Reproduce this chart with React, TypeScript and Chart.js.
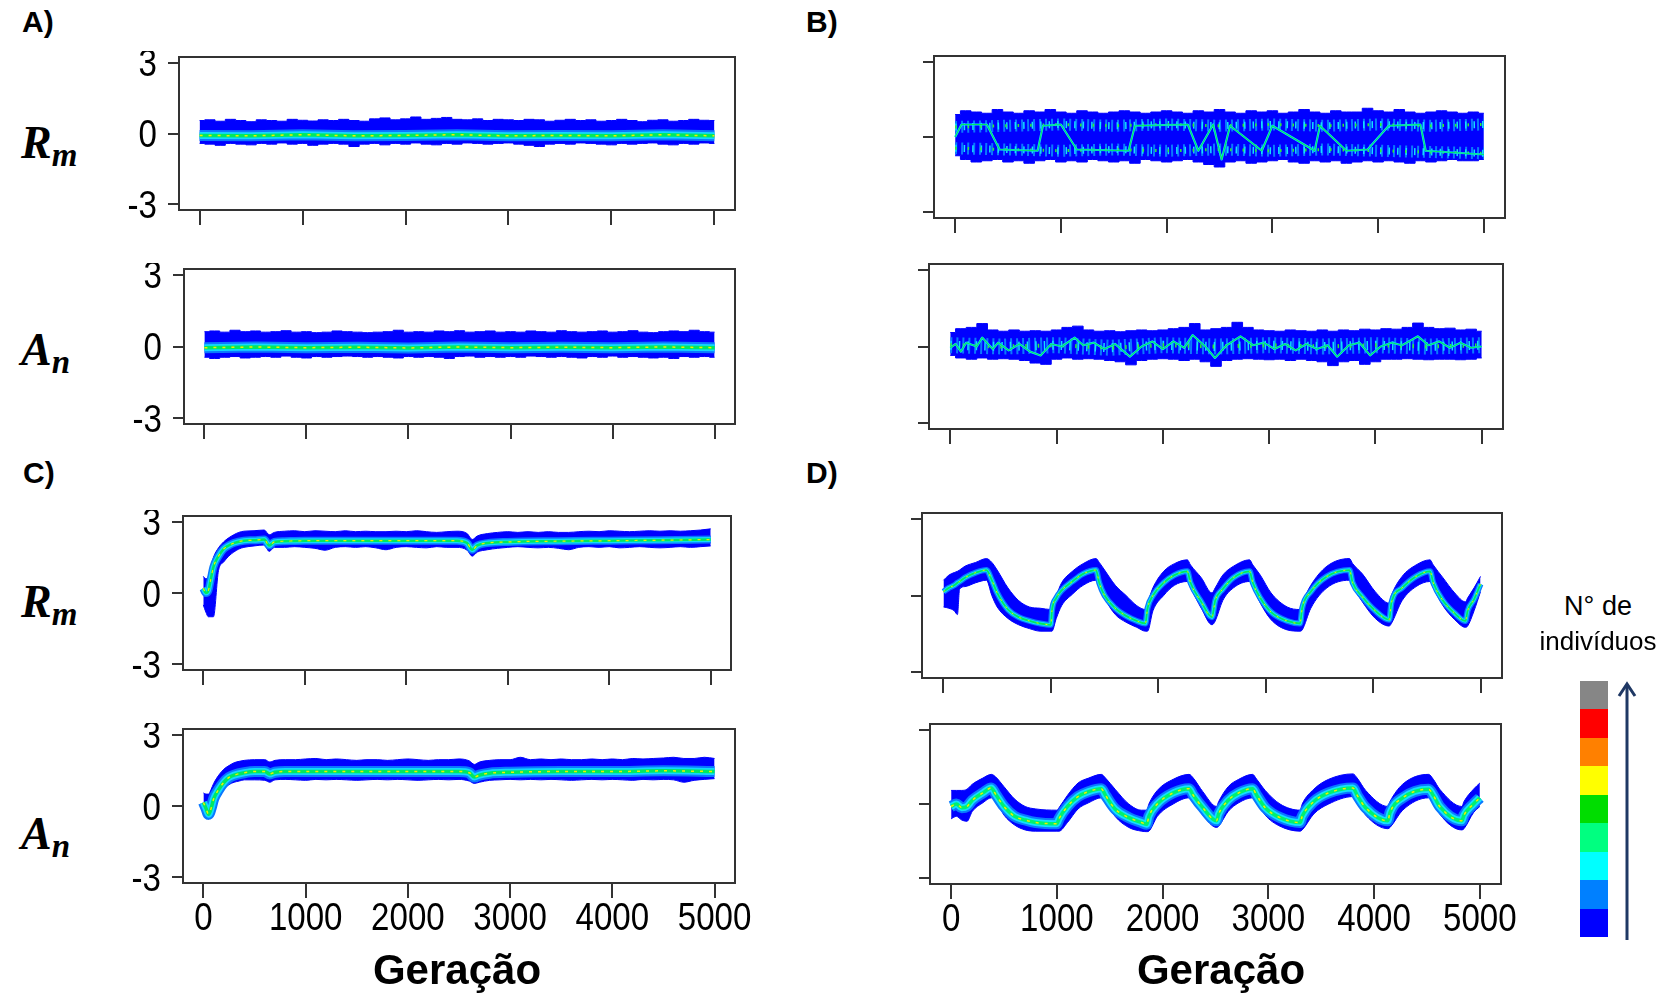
import React, { useEffect, useRef } from 'react';
import { Chart, registerables } from 'chart.js';

Chart.register(...registerables);

// ------------------------------------------------------------------ data
const X_TICKS = [0, 1000, 2000, 3000, 4000, 5000];
const X_TICK_LABELS = ['0', '1000', '2000', '3000', '4000', '5000'];
const Y_TICKS = [-3, 0, 3];
const Y_TICK_LABELS = ['-3', '0', '3'];

const GENS_100 = [0, 100, 200, 300, 400, 500, 600, 700, 800, 900, 1000, 1100, 1200, 1300, 1400, 1500, 1600, 1700, 1800, 1900, 2000, 2100, 2200, 2300, 2400, 2500, 2600, 2700, 2800, 2900, 3000, 3100, 3200, 3300, 3400, 3500, 3600, 3700, 3800, 3900, 4000, 4100, 4200, 4300, 4400, 4500, 4600, 4700, 4800, 4900, 5000];
const GENS_500 = [0, 500, 1000, 1500, 2000, 2500, 3000, 3500, 4000, 4500, 5000];

// Panel A – Rm
const A_RM_UPPER = [0.55, 0.58, 0.52, 0.6, 0.55, 0.5, 0.58, 0.55, 0.52, 0.6, 0.56, 0.53, 0.58, 0.55, 0.6, 0.55, 0.52, 0.62, 0.66, 0.58, 0.62, 0.7, 0.6, 0.64, 0.68, 0.6, 0.58, 0.62, 0.55, 0.6, 0.58, 0.55, 0.6, 0.58, 0.52, 0.56, 0.6, 0.55, 0.58, 0.52, 0.55, 0.6, 0.55, 0.5, 0.56, 0.58, 0.52, 0.55, 0.6, 0.56, 0.55];
const A_RM_LOWER = [-0.42, -0.45, -0.5, -0.42, -0.45, -0.48, -0.42, -0.45, -0.4, -0.45, -0.42, -0.5, -0.45, -0.42, -0.45, -0.55, -0.45, -0.42, -0.48, -0.42, -0.45, -0.4, -0.45, -0.48, -0.42, -0.45, -0.4, -0.42, -0.45, -0.42, -0.4, -0.45, -0.5, -0.55, -0.45, -0.42, -0.45, -0.4, -0.42, -0.45, -0.48, -0.42, -0.45, -0.42, -0.4, -0.45, -0.48, -0.42, -0.45, -0.4, -0.42];
const A_RM_CENTER = [-0.08, -0.1, -0.05, -0.1, -0.08, -0.05, -0.1, -0.08, -0.1, -0.05, -0.1];

// Panel A – An
const A_AN_UPPER = [0.62, 0.65, 0.6, 0.68, 0.62, 0.65, 0.6, 0.62, 0.66, 0.6, 0.62, 0.58, 0.6, 0.65, 0.62, 0.6, 0.58, 0.6, 0.62, 0.68, 0.6, 0.62, 0.6, 0.65, 0.62, 0.66, 0.6, 0.62, 0.65, 0.6, 0.62, 0.6, 0.65, 0.62, 0.6, 0.66, 0.62, 0.6, 0.62, 0.65, 0.6, 0.62, 0.66, 0.6, 0.58, 0.62, 0.65, 0.62, 0.68, 0.62, 0.6];
const A_AN_LOWER = [-0.45, -0.5, -0.45, -0.42, -0.48, -0.45, -0.42, -0.45, -0.4, -0.45, -0.48, -0.42, -0.45, -0.42, -0.4, -0.42, -0.45, -0.42, -0.45, -0.48, -0.42, -0.45, -0.42, -0.45, -0.5, -0.42, -0.4, -0.45, -0.42, -0.45, -0.42, -0.45, -0.4, -0.42, -0.45, -0.42, -0.45, -0.48, -0.42, -0.45, -0.4, -0.45, -0.42, -0.45, -0.48, -0.45, -0.5, -0.42, -0.45, -0.42, -0.45];
const A_AN_CENTER = [-0.05, -0.02, -0.05, -0.03, -0.06, -0.02, -0.05, -0.03, -0.05, -0.02, -0.05];

// Panel B – Rm
const B_RM_UPPER = [0.9, 1.05, 1.0, 0.95, 1.1, 1.0, 0.95, 1.05, 1.0, 1.1, 1.0, 0.95, 1.05, 1.0, 0.95, 1.0, 1.05, 1.0, 0.95, 1.0, 1.05, 1.0, 0.95, 1.05, 1.0, 1.1, 1.0, 0.95, 1.05, 1.0, 1.05, 0.95, 1.0, 1.1, 1.0, 0.95, 1.05, 1.0, 1.0, 1.15, 1.05, 1.0, 1.1, 1.0, 0.95, 1.0, 1.05, 1.0, 0.95, 1.0, 0.95];
const B_RM_LOWER = [-0.75, -0.9, -1.0, -0.95, -0.9, -1.0, -0.95, -1.05, -0.95, -0.9, -1.0, -0.95, -1.0, -0.9, -0.95, -1.0, -0.95, -1.05, -0.9, -0.95, -1.0, -0.95, -0.9, -1.0, -1.1, -1.2, -1.0, -0.95, -1.05, -1.0, -0.95, -0.9, -1.0, -1.05, -0.95, -1.0, -0.95, -1.05, -1.0, -0.95, -1.0, -0.95, -1.0, -1.05, -0.95, -1.0, -0.95, -0.9, -0.95, -0.95, -0.9];
const B_RM_HIGH_LEVEL = [0.4, 0.45, 0.5, 0.45, 0.5, 0.45, 0.5, 0.45, 0.5, 0.45, 0.5];
const B_RM_LOW_LEVEL = [-0.45, -0.5, -0.55, -0.5, -0.55, -0.5, -0.55, -0.5, -0.55, -0.6, -0.65];
const B_RM_PATH_X = [0, 60, 300, 420, 780, 830, 1000, 1150, 1640, 1700, 2200, 2300, 2440, 2520, 2600, 2900, 3000, 3400, 3450, 3700, 3900, 4100, 4400, 4450, 5000];
const B_RM_PATH = [0.0, 0.5, 0.5, -0.5, -0.55, 0.45, 0.5, -0.5, -0.55, 0.45, 0.5, -0.55, 0.5, -0.9, 0.45, -0.55, 0.45, -0.55, 0.45, -0.55, -0.5, 0.45, 0.5, -0.55, -0.7];

// Panel B – An
const B_AN_UPPER = [0.55, 0.7, 0.75, 0.9, 0.65, 0.6, 0.65, 0.6, 0.62, 0.6, 0.65, 0.75, 0.8, 0.65, 0.6, 0.62, 0.58, 0.62, 0.65, 0.62, 0.65, 0.7, 0.75, 0.9, 0.65, 0.7, 0.75, 0.95, 0.75, 0.65, 0.62, 0.6, 0.65, 0.62, 0.6, 0.65, 0.6, 0.65, 0.62, 0.68, 0.65, 0.7, 0.68, 0.75, 0.92, 0.75, 0.7, 0.72, 0.65, 0.68, 0.6];
const B_AN_LOWER = [-0.35, -0.45, -0.5, -0.45, -0.5, -0.48, -0.5, -0.55, -0.65, -0.7, -0.5, -0.45, -0.5, -0.48, -0.5, -0.55, -0.6, -0.72, -0.55, -0.5, -0.48, -0.5, -0.55, -0.5, -0.6, -0.78, -0.55, -0.5, -0.48, -0.5, -0.52, -0.5, -0.55, -0.5, -0.55, -0.6, -0.75, -0.6, -0.55, -0.7, -0.6, -0.5, -0.5, -0.48, -0.5, -0.52, -0.5, -0.5, -0.52, -0.5, -0.45];
const B_AN_LEVEL = [0.05, 0.0, 0.05, -0.05, 0.05, 0.0, 0.05, 0.0, 0.05, 0.0, 0.05];
const B_AN_PATH_X = [0, 50, 100, 150, 250, 300, 400, 450, 550, 650, 750, 850, 950, 1050, 1170, 1250, 1350, 1450, 1550, 1690, 1800, 1900, 2000, 2100, 2200, 2280, 2400, 2490, 2600, 2730, 2850, 2950, 3050, 3150, 3250, 3350, 3450, 3550, 3640, 3750, 3850, 3950, 4050, 4150, 4250, 4400, 4500, 4600, 4700, 4800, 4900, 5000];
const B_AN_PATH = [-0.05, 0.1, -0.2, 0.15, 0.0, 0.35, -0.1, 0.15, -0.15, 0.1, -0.2, -0.35, 0.1, 0.0, 0.35, 0.05, 0.15, -0.1, 0.1, -0.4, 0.0, 0.2, -0.1, 0.2, -0.05, 0.45, 0.0, -0.45, 0.05, 0.4, 0.05, 0.15, -0.1, 0.1, -0.15, 0.1, -0.1, 0.05, -0.4, 0.05, 0.15, -0.35, 0.0, 0.15, 0.05, 0.4, 0.05, 0.2, -0.05, 0.15, -0.05, 0.0];

// Panel C (shared generation grid)
const C_GENS = [0, 25, 50, 75, 100, 150, 200, 250, 300, 350, 400, 500, 600, 650, 700, 800, 900, 1000, 1100, 1200, 1300, 1400, 1500, 1600, 1700, 1800, 1900, 2000, 2100, 2200, 2300, 2400, 2500, 2600, 2650, 2700, 2800, 2900, 3000, 3100, 3200, 3300, 3400, 3500, 3600, 3700, 3800, 3900, 4000, 4100, 4200, 4300, 4400, 4500, 4600, 4700, 4800, 4900, 5000];
const C_CENTER_GENS = [0, 25, 50, 75, 100, 150, 200, 250, 300, 400, 500, 600, 650, 700, 800, 1000, 1500, 2000, 2500, 2600, 2650, 2700, 2800, 3000, 3500, 4000, 4500, 5000];

const C_RM_UPPER = [0.7, 0.6, 0.7, 1.1, 1.5, 1.9, 2.15, 2.32, 2.45, 2.55, 2.6, 2.62, 2.65, 2.45, 2.55, 2.6, 2.62, 2.58, 2.62, 2.6, 2.58, 2.62, 2.58, 2.6, 2.58, 2.58, 2.6, 2.58, 2.62, 2.58, 2.55, 2.58, 2.6, 2.5, 2.25, 2.4, 2.5, 2.55, 2.58, 2.55, 2.58, 2.55, 2.58, 2.55, 2.55, 2.58, 2.6, 2.58, 2.62, 2.6, 2.58, 2.6, 2.62, 2.6, 2.62, 2.6, 2.62, 2.65, 2.7];
const C_RM_LOWER = [-0.5, -0.8, -1.0, -1.0, -1.0, 0.95, 1.3, 1.55, 1.72, 1.85, 1.92, 1.98, 2.02, 1.75, 1.92, 1.92, 1.95, 1.92, 1.88, 1.8, 1.92, 1.95, 1.92, 1.95, 1.9, 1.82, 1.92, 1.95, 1.92, 1.9, 1.95, 1.92, 1.92, 1.8, 1.55, 1.72, 1.82, 1.88, 1.92, 1.95, 1.92, 1.9, 1.92, 1.88, 1.82, 1.92, 1.95, 1.92, 1.95, 1.9, 1.92, 1.95, 1.92, 1.9, 1.92, 1.95, 1.92, 1.95, 1.98];
const C_RM_CENTER = [0.2, 0.0, 0.1, 0.6, 1.1, 1.55, 1.85, 2.0, 2.1, 2.2, 2.22, 2.25, 2.0, 2.15, 2.18, 2.2, 2.2, 2.2, 2.2, 2.1, 1.82, 2.0, 2.1, 2.15, 2.18, 2.2, 2.22, 2.25];

const C_AN_UPPER = [0.55, 0.5, 0.5, 0.7, 0.95, 1.3, 1.55, 1.7, 1.82, 1.88, 1.92, 1.95, 1.95, 1.85, 1.92, 1.95, 1.95, 1.98, 2.0, 1.95, 1.98, 1.95, 1.92, 1.95, 1.95, 1.92, 1.95, 1.98, 1.95, 1.92, 1.95, 1.95, 1.98, 1.9, 1.75, 1.85, 1.92, 1.95, 1.95, 2.05, 1.95, 1.98, 1.95, 1.98, 1.95, 1.95, 1.98, 1.95, 1.98, 1.95, 2.0, 1.98, 2.0, 2.02, 2.05, 2.0, 2.0, 2.05, 2.0];
const C_AN_LOWER = [-0.25, -0.45, -0.55, -0.35, -0.05, 0.35, 0.7, 0.9, 1.0, 1.05, 1.1, 1.1, 1.08, 1.0, 1.1, 1.12, 1.1, 1.08, 1.12, 1.1, 1.12, 1.1, 1.08, 1.1, 1.12, 1.1, 1.12, 1.1, 1.08, 1.1, 1.12, 1.1, 1.12, 1.05, 0.95, 1.0, 1.08, 1.1, 1.12, 1.1, 1.12, 1.1, 1.12, 1.1, 1.08, 1.1, 1.12, 1.1, 1.12, 1.1, 1.08, 1.12, 1.1, 1.12, 1.1, 1.0, 1.08, 1.12, 1.15];
const C_AN_CENTER = [0.15, -0.1, -0.35, -0.1, 0.3, 0.7, 1.0, 1.2, 1.3, 1.4, 1.45, 1.45, 1.35, 1.42, 1.45, 1.45, 1.45, 1.45, 1.45, 1.4, 1.22, 1.3, 1.38, 1.42, 1.45, 1.45, 1.48, 1.45];

// Panel D – Rm
const D_RM_GENS = [0, 50, 100, 130, 150, 200, 300, 400, 450, 500, 600, 700, 800, 900, 1000, 1010, 1050, 1100, 1200, 1300, 1420, 1450, 1500, 1600, 1700, 1800, 1880, 1900, 1950, 2050, 2150, 2270, 2300, 2400, 2500, 2530, 2600, 2700, 2850, 2880, 2950, 3050, 3200, 3320, 3340, 3420, 3570, 3780, 3810, 3900, 4020, 4150, 4170, 4270, 4400, 4530, 4560, 4650, 4760, 4860, 4880, 4940, 5000];
const D_RM_UPPER = [0.6, 0.8, 0.9, 0.95, 1.0, 1.15, 1.3, 1.45, 1.3, 1.0, 0.3, -0.2, -0.45, -0.5, -0.55, -0.4, 0.0, 0.5, 0.95, 1.25, 1.45, 1.3, 1.0, 0.4, 0.0, -0.4, -0.55, -0.3, 0.3, 0.95, 1.25, 1.4, 1.2, 0.7, 0.1, 0.3, 0.8, 1.15, 1.4, 1.2, 0.8, 0.1, -0.45, -0.55, -0.3, 0.4, 1.15, 1.45, 1.25, 0.85, 0.15, -0.3, 0.0, 0.75, 1.2, 1.4, 1.2, 0.7, 0.1, -0.25, -0.1, 0.3, 0.75];
const D_RM_CENTER = [0.15, 0.3, 0.4, 0.5, 0.55, 0.7, 0.9, 1.0, 0.6, 0.1, -0.55, -0.85, -1.0, -1.1, -1.15, -0.6, -0.1, 0.2, 0.55, 0.85, 1.0, 0.5, 0.0, -0.5, -0.8, -1.0, -1.1, -0.5, 0.0, 0.5, 0.8, 0.95, 0.5, -0.25, -0.85, -0.2, 0.25, 0.7, 0.95, 0.5, -0.1, -0.65, -1.0, -1.1, -0.5, 0.15, 0.75, 1.0, 0.5, -0.05, -0.6, -0.95, -0.3, 0.3, 0.75, 0.95, 0.5, -0.2, -0.7, -1.0, -0.6, -0.15, 0.45];
const D_RM_LOWER = [-0.45, -0.5, -0.6, -0.75, 0.25, 0.35, 0.5, 0.6, 0.0, -0.45, -0.9, -1.15, -1.3, -1.4, -1.4, -1.4, -0.9, -0.4, 0.05, 0.4, 0.6, 0.4, -0.1, -0.75, -1.05, -1.25, -1.4, -1.4, -0.6, 0.0, 0.4, 0.55, 0.3, -0.5, -1.15, -1.0, -0.2, 0.3, 0.55, 0.3, -0.3, -0.95, -1.35, -1.4, -1.35, -0.5, 0.3, 0.6, 0.35, -0.25, -0.9, -1.2, -1.1, -0.2, 0.35, 0.55, 0.3, -0.4, -0.95, -1.25, -1.2, -0.6, 0.15];

// Panel D – An
const D_AN_GENS = [0, 50, 100, 150, 200, 300, 380, 420, 500, 600, 700, 800, 1000, 1020, 1100, 1200, 1300, 1420, 1460, 1550, 1680, 1800, 1850, 1870, 1950, 2100, 2250, 2290, 2380, 2510, 2530, 2620, 2720, 2850, 2890, 2970, 3110, 3300, 3320, 3430, 3570, 3800, 3840, 3920, 4130, 4150, 4270, 4515, 4560, 4620, 4830, 4850, 4940, 5000];
const D_AN_UPPER = [0.55, 0.55, 0.55, 0.6, 0.8, 1.05, 1.2, 1.1, 0.7, 0.2, -0.1, -0.2, -0.25, -0.15, 0.35, 0.85, 1.05, 1.2, 1.05, 0.6, 0.0, -0.25, -0.25, 0.0, 0.55, 1.0, 1.2, 1.05, 0.5, -0.1, 0.1, 0.7, 1.0, 1.2, 1.0, 0.55, 0.0, -0.25, 0.0, 0.6, 1.0, 1.22, 1.05, 0.55, -0.1, 0.1, 0.8, 1.2, 1.0, 0.6, -0.1, 0.1, 0.6, 0.85];
const D_AN_CENTER = [-0.1, 0.0, -0.15, -0.1, 0.15, 0.45, 0.65, 0.4, -0.1, -0.5, -0.65, -0.75, -0.8, -0.6, -0.1, 0.3, 0.5, 0.62, 0.35, -0.2, -0.55, -0.75, -0.82, -0.5, 0.0, 0.45, 0.62, 0.35, -0.15, -0.68, -0.4, 0.15, 0.45, 0.62, 0.35, -0.15, -0.55, -0.75, -0.5, 0.1, 0.45, 0.65, 0.35, -0.15, -0.68, -0.35, 0.25, 0.6, 0.35, -0.1, -0.68, -0.45, 0.0, 0.25];
const D_AN_LOWER = [-0.6, -0.5, -0.65, -0.7, -0.3, 0.05, 0.25, 0.15, -0.45, -0.85, -1.05, -1.1, -1.1, -1.1, -0.75, -0.2, 0.05, 0.25, 0.1, -0.5, -0.95, -1.1, -1.12, -1.1, -0.5, 0.0, 0.25, 0.1, -0.45, -0.95, -0.9, -0.3, 0.05, 0.25, 0.1, -0.45, -0.9, -1.1, -1.05, -0.4, 0.0, 0.3, 0.1, -0.45, -1.0, -0.95, -0.25, 0.25, 0.1, -0.4, -1.05, -1.0, -0.35, -0.1];

// colour key (top = most individuals)
const KEY_COLORS = ['#868686', '#ff0000', '#ff8000', '#ffff00', '#00dd00', '#00ff80', '#00ffff', '#0080ff', '#0000ff'];

// ------------------------------------------------------------------ styles
const BLUE = '#0000ff';
type Layer = { color: string; width: number; dash?: number[] };

const CORE_WIDE: Layer[] = [
  { color: '#0a78ff', width: 11 },
  { color: '#12d8ff', width: 7 },
  { color: '#00e860', width: 3.5 },
  { color: '#f2ee00', width: 1.5, dash: [3, 6] },
];
const CORE_MID: Layer[] = [
  { color: '#0a78ff', width: 8 },
  { color: '#12d8ff', width: 5 },
  { color: '#00e860', width: 2.5 },
  { color: '#f2ee00', width: 1.2, dash: [3, 6] },
];
const CORE_THIN: Layer[] = [
  { color: '#0a78ff', width: 6 },
  { color: '#12e0ff', width: 3.5 },
  { color: '#00e860', width: 1.8 },
  { color: '#f2ee00', width: 1, dash: [2, 7] },
];
const CORE_D2: Layer[] = [
  { color: '#0a78ff', width: 11 },
  { color: '#12e0ff', width: 7 },
  { color: '#00f070', width: 3.5 },
  { color: '#f2ee00', width: 1.5, dash: [3, 6] },
];
const CORE_PATH: Layer[] = [
  { color: '#12d8ff', width: 2.2 },
  { color: '#00e860', width: 1.1 },
];
const STREAK: Layer[] = [
  { color: '#0a78ff', width: 12, dash: [2, 4] },
  { color: '#12e0ff', width: 7, dash: [1.5, 7] },
  { color: '#30f030', width: 3, dash: [1.5, 11] },
];
const STREAK_WIDE: Layer[] = [
  { color: '#0a78ff', width: 16, dash: [2, 4] },
  { color: '#12e0ff', width: 9, dash: [1.5, 7] },
  { color: '#30f030', width: 4, dash: [1.5, 11] },
];

type Streak = { x: number[]; y: number[]; layers: Layer[] };
type PanelCfg = {
  box: [number, number, number, number]; // left, top, right, bottom of plot box
  yLabels: boolean;
  xLabels: boolean;
  bandX: number[];
  upper: number[];
  lower: number[];
  centerX: number[];
  center: number[];
  core: Layer[];
  stepped: boolean;
  smooth: boolean;
  streaks?: Streak[];
};

const PANELS: PanelCfg[] = [
  { box: [179, 57, 735, 210], yLabels: true, xLabels: false, bandX: GENS_100, upper: A_RM_UPPER, lower: A_RM_LOWER, centerX: GENS_500, center: A_RM_CENTER, core: CORE_WIDE, stepped: true, smooth: false },
  { box: [184, 269, 735, 424], yLabels: true, xLabels: false, bandX: GENS_100, upper: A_AN_UPPER, lower: A_AN_LOWER, centerX: GENS_500, center: A_AN_CENTER, core: CORE_WIDE, stepped: true, smooth: false },
  {
    box: [934, 56, 1505, 218], yLabels: false, xLabels: false, bandX: GENS_100, upper: B_RM_UPPER, lower: B_RM_LOWER, centerX: B_RM_PATH_X, center: B_RM_PATH, core: CORE_PATH, stepped: true, smooth: false,
    streaks: [
      { x: GENS_500, y: B_RM_HIGH_LEVEL, layers: STREAK },
      { x: GENS_500, y: B_RM_LOW_LEVEL, layers: STREAK },
    ],
  },
  {
    box: [929, 264, 1503, 429], yLabels: false, xLabels: false, bandX: GENS_100, upper: B_AN_UPPER, lower: B_AN_LOWER, centerX: B_AN_PATH_X, center: B_AN_PATH, core: CORE_PATH, stepped: true, smooth: false,
    streaks: [{ x: GENS_500, y: B_AN_LEVEL, layers: STREAK_WIDE }],
  },
  { box: [183, 516, 731, 670], yLabels: true, xLabels: false, bandX: C_GENS, upper: C_RM_UPPER, lower: C_RM_LOWER, centerX: C_CENTER_GENS, center: C_RM_CENTER, core: CORE_MID, stepped: false, smooth: true },
  { box: [183, 729, 735, 883], yLabels: true, xLabels: true, bandX: C_GENS, upper: C_AN_UPPER, lower: C_AN_LOWER, centerX: C_CENTER_GENS, center: C_AN_CENTER, core: CORE_WIDE, stepped: false, smooth: true },
  { box: [922, 513, 1502, 678], yLabels: false, xLabels: false, bandX: D_RM_GENS, upper: D_RM_UPPER, lower: D_RM_LOWER, centerX: D_RM_GENS, center: D_RM_CENTER, core: CORE_THIN, stepped: false, smooth: true },
  { box: [930, 724, 1501, 884], yLabels: false, xLabels: true, bandX: D_AN_GENS, upper: D_AN_UPPER, lower: D_AN_LOWER, centerX: D_AN_GENS, center: D_AN_CENTER, core: CORE_D2, stepped: false, smooth: true },
];

const YW = 80; // y-axis strip width
const XH = 70; // x-axis strip height
const PAD = 6;
const PAD_R = 50; // room on the right for the last tick label
const TICK_FONT = "38px 'Liberation Sans', Arial, sans-serif";
const TICK_SQUEEZE = 0.87;

const pts = (xs: number[], ys: number[]) => xs.map((x, i) => ({ x, y: ys[i] }));

function buildDatasets(p: PanelCfg) {
  const interp = p.smooth ? 'monotone' : 'default';
  const step = p.stepped ? 'middle' : false;
  const ds: any[] = [
    { data: pts(p.bandX, p.upper), borderColor: BLUE, backgroundColor: BLUE, borderWidth: 1, fill: '+1', stepped: step, cubicInterpolationMode: interp, order: 10 },
    { data: pts(p.bandX, p.lower), borderColor: BLUE, backgroundColor: BLUE, borderWidth: 1, fill: false, stepped: step, cubicInterpolationMode: interp, order: 10 },
  ];
  (p.streaks || []).forEach((s) => {
    s.layers.forEach((l, i) => {
      ds.push({ data: pts(s.x, s.y), borderColor: l.color, borderWidth: l.width, borderDash: l.dash || [], fill: false, order: 9 - i * 0.1 });
    });
  });
  p.core.forEach((l, i) => {
    ds.push({
      data: pts(p.centerX, p.center), borderColor: l.color, borderWidth: l.width, borderDash: l.dash || [], fill: false,
      cubicInterpolationMode: interp, borderJoinStyle: 'round', borderCapStyle: 'butt', order: 5 - i,
    });
  });
  return ds;
}

// frame around the plotting region + condensed tick labels placed by the scales
const framePlugin = {
  id: 'frameAndLabels',
  afterDraw(chart: any) {
    const { ctx, chartArea: a, scales } = chart;
    const flags = chart.options.plugins.frameAndLabels || {};
    ctx.save();
    ctx.strokeStyle = '#333333';
    ctx.lineWidth = 2;
    ctx.strokeRect(a.left, a.top, a.right - a.left, a.bottom - a.top);
    ctx.fillStyle = '#000000';
    ctx.font = TICK_FONT;
    ctx.textBaseline = 'alphabetic';
    if (flags.x) {
      ctx.textAlign = 'center';
      X_TICKS.forEach((v, i) => {
        const px = scales.x.getPixelForValue(v);
        ctx.save();
        ctx.translate(px, a.bottom + 47);
        ctx.scale(TICK_SQUEEZE, 1);
        ctx.fillText(X_TICK_LABELS[i], 0, 0);
        ctx.restore();
      });
    }
    if (flags.y) {
      ctx.textAlign = 'right';
      Y_TICKS.forEach((v, i) => {
        const py = scales.y.getPixelForValue(v);
        ctx.save();
        ctx.translate(a.left - 22, py + 13.5);
        ctx.scale(TICK_SQUEEZE, 1);
        ctx.fillText(Y_TICK_LABELS[i], 0, 0);
        ctx.restore();
      });
    }
    ctx.restore();
  },
};

const zeroPad = (s: any) => {
  s.paddingTop = 0;
  s.paddingBottom = 0;
  s.paddingLeft = 0;
  s.paddingRight = 0;
};

function Panel({ cfg }: { cfg: PanelCfg }) {
  const ref = useRef<HTMLCanvasElement>(null);
  const [l, t, r, b] = cfg.box;
  const w = r - l + YW + PAD_R;
  const h = b - t + PAD + XH;
  useEffect(() => {
    const chart = new Chart(ref.current as HTMLCanvasElement, {
      type: 'line',
      data: { datasets: buildDatasets(cfg) },
      options: {
        animation: false,
        responsive: false,
        maintainAspectRatio: false,
        devicePixelRatio: 1,
        events: [],
        layout: { padding: { left: 0, top: PAD, right: PAD_R, bottom: 0 }, autoPadding: false },
        plugins: { legend: { display: false }, tooltip: { enabled: false }, frameAndLabels: { x: cfg.xLabels, y: cfg.yLabels } },
        elements: { point: { radius: 0, hitRadius: 0 }, line: { tension: 0 } },
        scales: {
          x: {
            type: 'linear',
            min: -200,
            max: 5200,
            afterBuildTicks: (ax: any) => { ax.ticks = X_TICKS.map((v) => ({ value: v })); },
            afterFit: (s: any) => { s.height = XH; zeroPad(s); },
            border: { display: false },
            grid: { drawOnChartArea: false, drawTicks: true, tickLength: 15, color: '#333333', lineWidth: 2 },
            ticks: { autoSkip: false, maxRotation: 0, padding: 0, font: { size: 1 }, callback: () => '' },
          },
          y: {
            type: 'linear',
            min: -3.24,
            max: 3.24,
            afterBuildTicks: (ax: any) => { ax.ticks = Y_TICKS.map((v) => ({ value: v })); },
            afterFit: (s: any) => { s.width = YW; zeroPad(s); },
            border: { display: false },
            grid: { drawOnChartArea: false, drawTicks: true, tickLength: 11, color: '#333333', lineWidth: 2 },
            ticks: { autoSkip: false, padding: 0, font: { size: 1 }, callback: () => '' },
          },
        },
      } as any,
      plugins: [framePlugin],
    });
    return () => chart.destroy();
  }, []);
  return (
    <canvas
      ref={ref}
      width={w}
      height={h}
      style={{ position: 'absolute', left: l - YW, top: t - PAD, width: w, height: h }}
    />
  );
}

const SANS = "'Liberation Sans', Arial, sans-serif";
const SERIF = "'Liberation Serif', 'DejaVu Serif', serif";

function Txt({ x, y, center, style, children }: any) {
  return (
    <div
      style={{
        position: 'absolute', left: x, top: y, lineHeight: 1, whiteSpace: 'nowrap', color: '#000',
        transform: center ? 'translateX(-50%)' : undefined, ...style,
      }}
    >
      {children}
    </div>
  );
}

function VarLabel({ x, y, main, sub }: { x: number; y: number; main: string; sub: string }) {
  return (
    <Txt x={x} y={y} style={{ fontFamily: SERIF, fontStyle: 'italic', fontWeight: 'bold', fontSize: 46 }}>
      {main}
      <span style={{ fontSize: 33, position: 'relative', top: 8 }}>{sub}</span>
    </Txt>
  );
}

export default function App() {
  const letter = { fontFamily: SANS, fontWeight: 'bold', fontSize: 30 };
  const keyTop = 681;
  const keyH = 256;
  return (
    <div style={{ position: 'absolute', left: 0, top: 0, width: 1670, height: 998, background: '#ffffff', overflow: 'hidden' }}>
      {PANELS.map((p, i) => (
        <Panel key={i} cfg={p} />
      ))}

      <Txt x={22} y={7} style={letter}>A)</Txt>
      <Txt x={806} y={7} style={letter}>B)</Txt>
      <Txt x={23} y={458} style={letter}>C)</Txt>
      <Txt x={806} y={458} style={letter}>D)</Txt>

      <VarLabel x={21} y={120} main="R" sub="m" />
      <VarLabel x={21} y={327} main="A" sub="n" />
      <VarLabel x={21} y={579} main="R" sub="m" />
      <VarLabel x={21} y={811} main="A" sub="n" />

      <Txt x={457} y={949} center style={{ fontFamily: SANS, fontWeight: 'bold', fontSize: 42 }}>Geração</Txt>
      <Txt x={1221} y={949} center style={{ fontFamily: SANS, fontWeight: 'bold', fontSize: 42 }}>Geração</Txt>

      <Txt x={1598} y={593} center style={{ fontFamily: SANS, fontSize: 27 }}>N° de</Txt>
      <Txt x={1598} y={628} center style={{ fontFamily: SANS, fontSize: 26 }}>indivíduos</Txt>

      {KEY_COLORS.map((c, i) => (
        <div
          key={c}
          style={{
            position: 'absolute', left: 1580, width: 28,
            top: keyTop + (keyH * i) / KEY_COLORS.length,
            height: keyH / KEY_COLORS.length + 0.5,
            background: c,
          }}
        />
      ))}
      <svg style={{ position: 'absolute', left: 1610, top: 676, width: 34, height: 270 }} width={34} height={270}>
        <line x1={17} y1={264} x2={17} y2={10} stroke="#1f3864" strokeWidth={3} />
        <polyline points="9,20 17,8 25,20" fill="none" stroke="#1f3864" strokeWidth={3} strokeLinejoin="miter" />
      </svg>
    </div>
  );
}
